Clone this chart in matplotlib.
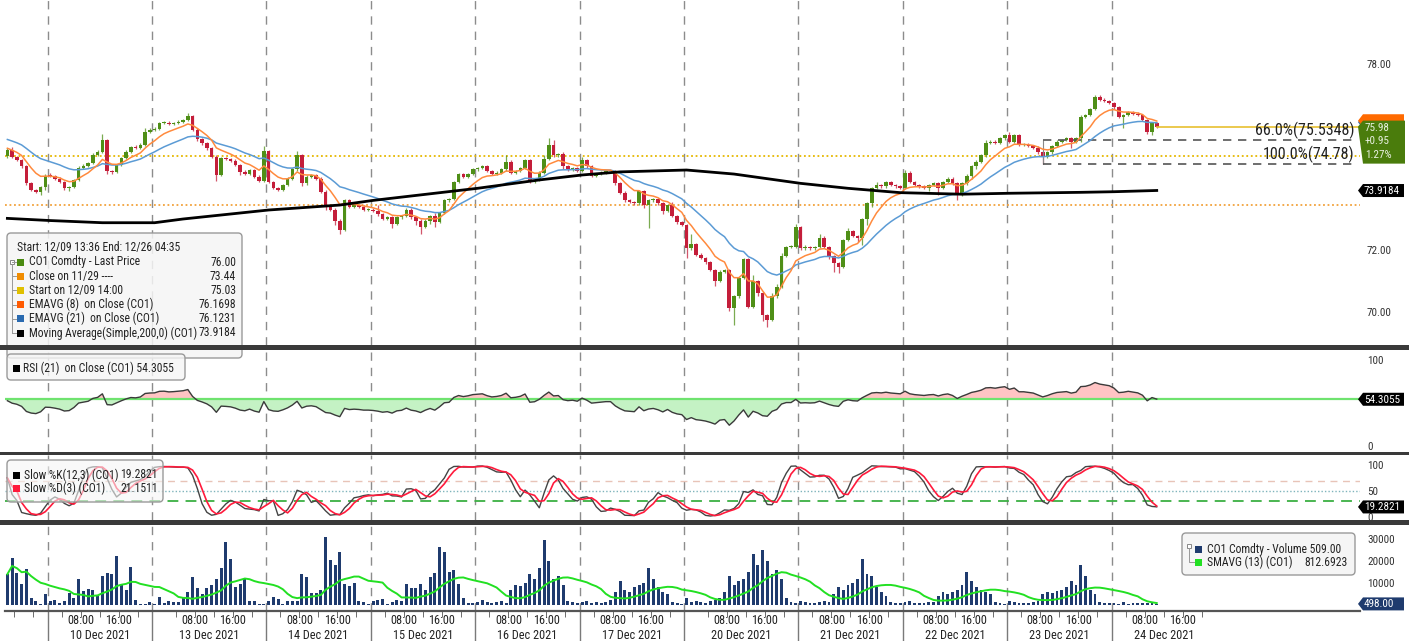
import numpy as np
import pandas as pd
import matplotlib
matplotlib.use('Agg')
import matplotlib.pyplot as plt
from matplotlib import font_manager
from matplotlib.patches import FancyBboxPatch, Polygon, Rectangle
from matplotlib.lines import Line2D
from matplotlib.transforms import blended_transform_factory


def have_font(name):
    try:
        font_manager.findfont(name, fallback_to_default=False)
        return True
    except ValueError:
        return False


# Bloomberg uses a narrow face; take the narrowest one that is installed
narrow = [f for f in ['Roboto Condensed', 'Liberation Sans Narrow', 'DejaVu Sans Condensed']
          if have_font(f)]
if narrow:
    plt.rcParams['font.family'] = [narrow[0], 'DejaVu Sans']
    fs = 1.0
else:
    plt.rcParams['font.family'] = ['Liberation Sans', 'DejaVu Sans']
    fs = 0.86

# --- hourly CO1 closes, one list per session (9 Dec 14:00 -> 24 Dec 10:00)
close_09 = [75.22, 75.0, 74.9, 74.7, 74.15, 73.95, 73.88, 74.02, 74.4]
close_10 = [74.38, 74.3, 74.2, 74.0, 74.03, 74.26, 74.64, 74.72, 74.8, 75.07, 75.17,
            75.55, 74.55, 74.52, 74.74, 74.96, 75.17, 75.33, 75.3, 75.4, 75.82, 75.88]
close_13 = [75.9, 76.09, 76.11, 76.06, 76.09, 76.14, 76.19, 76.32, 75.87, 75.57, 75.44, 75.28,
            75.01, 74.42, 74.96, 74.93, 74.88, 74.74, 74.53, 74.45, 74.58, 74.37, 74.24, 75.2]
close_14 = [74.2, 74.0, 73.95, 74.1, 74.3, 74.6, 75.05, 74.15, 74.37, 74.42, 74.3,
            73.88, 73.4, 73.3, 72.95, 72.65, 73.6, 73.4, 73.45, 73.4, 73.3, 73.3]
close_15 = [73.25, 73.15, 73.0, 73.05, 72.85, 73.05, 73.1, 73.3, 73.05, 72.95, 72.75,
            72.95, 73.1, 72.9, 73.2, 73.6, 73.65, 74.2, 74.45, 74.35, 74.45, 74.6]
close_16 = [74.65, 74.7, 74.55, 74.45, 74.5, 74.6, 74.85, 74.5, 74.55, 74.65, 74.9,
            74.2, 74.25, 74.5, 74.95, 75.4, 75.05, 75.1, 74.7, 74.6, 74.65, 74.55]
close_17 = [74.9, 74.7, 74.4, 74.45, 74.5, 74.55, 74.55, 74.15, 73.85, 73.6, 73.55,
            73.5, 73.9, 73.45, 73.6, 73.65, 73.5, 73.25, 73.45, 73.1, 72.9, 72.8]
close_20 = [72.05, 72.2, 71.85, 71.75, 71.6, 71.35, 71.0, 71.3, 71.35, 70.12, 70.5, 71.1,
            71.7, 70.17, 71.0, 70.6, 69.9, 69.75, 70.5, 70.8, 71.8, 72.1, 72.1, 72.75]
close_21 = [72.05, 72.1, 72.05, 72.1, 72.4, 72.1, 71.8, 71.57, 71.46, 72.32, 72.6,
            72.45, 72.4, 73.0, 73.5, 74.0, 74.1, 74.05, 74.2, 74.1, 74.05, 74.0]
close_22 = [74.5, 74.2, 74.1, 74.05, 74.0, 74.1, 74.15, 74.0, 74.2, 74.3, 74.15,
            73.85, 74.15, 74.4, 74.7, 74.85, 75.05, 75.45, 75.5, 75.45, 75.6, 75.7]
close_23 = [75.5, 75.7, 75.4, 75.4, 75.35, 75.3, 75.15, 75.0, 75.15, 75.35, 75.5,
            75.55, 75.6, 75.5, 75.6, 76.3, 76.35, 76.55, 76.95, 76.85, 76.8, 76.75]
close_24 = [76.6, 76.3, 76.35, 76.45, 76.4, 76.35, 76.2, 75.8, 76.1, 75.98]
first_open = 75.03

# wicks beyond the candle body, in cents
wick_up = [8, 10, 4, 4, 4, 3, 3, 4, 5,
           10, 4, 4, 3, 4, 4, 8, 4, 4, 5, 4, 18, 4, 4, 4, 4, 4, 4, 6, 4, 10, 5,
           6, 5, 4, 4, 4, 5, 5, 10, 4, 8, 4, 4, 4, 4, 5, 4, 4, 4, 4, 4, 4, 4, 4, 15,
           4, 4, 4, 4, 4, 4, 15, 5, 4, 4, 4, 4, 4, 4, 4, 4, 5, 4, 4, 4, 4, 4,
           4, 20, 4, 4, 4, 4, 4, 6, 4, 4, 4, 4, 4, 10, 4, 4, 4, 4, 5, 4, 4, 5,
           4, 4, 4, 4, 4, 4, 20, 4, 4, 4, 4, 4, 4, 4, 10, 20, 15, 4, 5, 4, 4, 4,
           10, 4, 4, 4, 4, 4, 4, 4, 4, 4, 4, 4, 4, 4, 4, 4, 4, 4, 4, 10, 4, 4,
           4, 30, 4, 4, 4, 4, 4, 5, 4, 4, 4, 4, 4, 5, 20, 4, 4, 4, 10, 10, 10, 4, 5, 10,
           4, 5, 4, 4, 10, 5, 4, 4, 4, 4, 10, 4, 4, 4, 4, 4, 10, 4, 4, 4, 4, 4,
           8, 5, 4, 4, 4, 4, 4, 4, 4, 4, 4, 4, 4, 4, 4, 4, 5, 10, 4, 4, 5, 4,
           10, 4, 4, 4, 4, 4, 4, 4, 5, 4, 4, 4, 4, 4, 4, 4, 5, 4, 5, 5, 4, 4,
           4, 4, 4, 4, 4, 5, 4, 4, 4, 4]
wick_dn = [5, 4, 4, 4, 5, 4, 4, 12, 10,
           4, 4, 4, 5, 10, 4, 4, 4, 4, 4, 4, 4, 10, 8, 4, 4, 4, 4, 4, 4, 4, 4,
           4, 4, 4, 4, 4, 4, 4, 4, 4, 4, 4, 4, 4, 20, 4, 4, 4, 4, 10, 4, 4, 4, 4, 4,
           4, 4, 4, 4, 4, 4, 4, 10, 4, 4, 4, 4, 10, 4, 15, 15, 4, 4, 4, 4, 4, 4,
           4, 4, 4, 4, 15, 4, 4, 4, 4, 15, 25, 4, 10, 15, 4, 4, 4, 4, 4, 4, 4, 4,
           4, 4, 4, 4, 4, 4, 4, 4, 4, 4, 4, 4, 4, 4, 4, 4, 4, 4, 10, 4, 4, 4,
           4, 4, 4, 4, 4, 4, 4, 4, 4, 4, 4, 4, 5, 10, 75, 4, 4, 10, 4, 4, 5, 4,
           32, 4, 5, 4, 4, 4, 15, 4, 4, 10, 54, 4, 4, 5, 4, 10, 20, 25, 4, 4, 4, 4, 4, 4,
           4, 4, 4, 4, 4, 4, 10, 27, 20, 4, 4, 4, 15, 25, 20, 10, 4, 4, 4, 4, 4, 4,
           4, 4, 4, 4, 4, 10, 4, 23, 4, 4, 4, 24, 10, 4, 10, 10, 4, 4, 4, 4, 4, 4,
           4, 4, 4, 4, 4, 4, 4, 22, 4, 4, 4, 4, 4, 22, 4, 10, 4, 4, 4, 4, 4, 4,
           4, 5, 38, 4, 4, 4, 4, 5, 10, 4]

vol_09 = [14000, 21500, 14700, 9400, 16200, 3000, 1800, 300, 5000]
vol_10 = [1800, 2100, 900, 1700, 5300, 3000, 11800, 6500, 7400, 6700, 4200,
          13200, 14700, 14000, 22300, 9100, 6700, 17400, 2100, 600, 600, 1400]
vol_13 = [600, 3500, 1000, 2000, 1400, 1400, 3500, 5800, 12700, 7900, 5000, 7900,
          9100, 11800, 16700, 28800, 20800, 8300, 9500, 12100, 1700, 1700, 500, 600]
vol_14 = [2000, 3800, 2600, 600, 1800, 1800, 1800, 14000, 12700, 5300, 5600,
          7000, 30800, 20500, 18300, 24200, 9400, 8600, 9800, 1800, 1500, 500]
vol_15 = [2000, 2300, 2600, 600, 1500, 2400, 1700, 9400, 7900, 7900, 9400,
          6800, 12900, 14400, 26200, 24200, 15200, 16000, 9500, 3000, 1000, 800]
vol_16 = [1500, 2500, 1200, 800, 1500, 2000, 1000, 7000, 9000, 8500, 10000,
          14000, 12000, 17000, 29500, 20000, 12000, 13000, 9000, 2000, 1200, 800]
vol_17 = [1500, 2000, 1000, 1500, 800, 1200, 2500, 6000, 11000, 7000, 6000,
          8000, 9000, 10000, 17000, 12000, 8000, 6000, 5000, 1500, 1000, 600]
vol_20 = [3000, 1500, 2000, 1500, 1000, 2000, 2500, 3000, 6000, 13000, 9000, 11000,
          12000, 15000, 23000, 18000, 25000, 20000, 14000, 16000, 12000, 3000, 1500, 1000]
vol_21 = [2000, 1500, 1000, 800, 1500, 2000, 1500, 5000, 8000, 7000, 9000,
          10000, 12000, 21000, 14000, 13000, 8000, 6000, 4000, 1500, 1000, 700]
vol_22 = [1500, 2000, 1000, 800, 700, 1200, 1500, 4000, 6000, 5000, 6000,
          7000, 9000, 15000, 11000, 8000, 7000, 6000, 5000, 1500, 1000, 600]
vol_23 = [2000, 1500, 1000, 800, 1000, 1500, 2000, 5000, 6000, 5500, 6500,
          7000, 8000, 11000, 9000, 18000, 13000, 7000, 5000, 1500, 1000, 800]
vol_24 = [800, 600, 1200, 500, 900, 1000, 700, 1100, 900, 509]

# 200-bar simple MA (bar index, value)
sma200_bar = [0, 9, 20, 31, 37, 55, 70, 77, 99, 112, 121, 129, 143, 153, 167, 177, 188,
              201, 211, 226, 233, 242]
sma200_val = [73.02, 72.95, 72.88, 72.88, 73.0, 73.29, 73.45, 73.6, 73.99, 74.26, 74.42,
              74.52, 74.58, 74.45, 74.15, 73.99, 73.85, 73.8, 73.83, 73.86, 73.88, 73.92]

day_labels = ['10 Dec 2021', '13 Dec 2021', '14 Dec 2021', '15 Dec 2021', '16 Dec 2021',
              '17 Dec 2021', '20 Dec 2021', '21 Dec 2021', '22 Dec 2021', '23 Dec 2021',
              '24 Dec 2021']
day_starts = [9, 31, 55, 77, 99, 121, 143, 167, 189, 211, 233]
day_first_hour = [1, -1, 1, 1, 1, 1, -1, 1, 1, 1, 1]
day_nbars = [22, 24, 22, 22, 22, 22, 24, 22, 22, 22, 22]

close_1129 = 73.44
start_price = 75.03
fib_bar = 218
fib_levels = [75.5348, 74.78]
fib_text = ['66.0%(75.5348)', '100.0%(74.78)']

# --- derived series
closes = np.array(close_09 + close_10 + close_13 + close_14 + close_15 + close_16 +
                  close_17 + close_20 + close_21 + close_22 + close_23 + close_24)
opens = np.r_[first_open, closes[:-1]]
highs = np.maximum(opens, closes) + np.array(wick_up) / 100
lows = np.minimum(opens, closes) - np.array(wick_dn) / 100
volumes = np.array(vol_09 + vol_10 + vol_13 + vol_14 + vol_15 + vol_16 + vol_17 +
                   vol_20 + vol_21 + vol_22 + vol_23 + vol_24, dtype=float)
n = len(closes)
xs = np.arange(n)


def ema(vals, span, seed):
    a = 2 / (span + 1)
    out, v = [], seed
    for c in vals:
        v = v + a * (c - v)
        out.append(v)
    return np.array(out)


ema8 = ema(closes, 8, 75.3)
ema21 = ema(closes, 21, 75.6)

# RSI (Wilder, 21)
ag, al = 0.10, 0.09
rsi = []
for i in range(n):
    if i > 0:
        d = closes[i] - closes[i - 1]
        ag = (ag * 20 + max(d, 0)) / 21
        al = (al * 20 + max(-d, 0)) / 21
    rsi.append(100 - 100 / (1 + ag / al))
rsi = np.array(rsi)
rsi_ref = 54.3055

# slow stochastic (12,3,3)
fastk = []
for i in range(n):
    lo = lows[max(0, i - 11):i + 1].min()
    hi = highs[max(0, i - 11):i + 1].max()
    fastk.append(100 * (closes[i] - lo) / (hi - lo))
slowk = pd.Series(fastk).rolling(3, min_periods=1).mean().values
slowd = pd.Series(slowk).rolling(3, min_periods=1).mean().values

vol_sma = pd.Series(volumes).rolling(13, min_periods=1).mean().values

# --- figure
W, H = 1409, 641
fig = plt.figure(figsize=(W / 100, H / 100), dpi=100)


def panel(top, bottom):
    return fig.add_axes([5 / W, 1 - bottom / H, 1355 / W, (bottom - top) / H])


ax = panel(0, 345)
ax_rsi = panel(350, 452)
ax_sto = panel(455, 520)
ax_vol = panel(525, 611)
x_right = 284.8

for a in (ax, ax_rsi, ax_sto, ax_vol):
    a.set_xlim(-0.5, x_right)
    for s in a.spines.values():
        s.set_visible(False)
    a.yaxis.tick_right()
    a.tick_params(axis='y', length=0, pad=5, labelsize=8 * fs, labelcolor='#333333')
    a.set_xticks([])
    for s in day_starts:
        a.axvline(s - 0.5, color='#8c8c8c', lw=1, ls=(0, (6, 5)), zorder=1)

# main price panel
ax.set_ylim(68.935, 80.065)
ax.axhline(start_price, color='#e6b800', lw=1.3, ls=(0, (1, 1.5)), zorder=1)
ax.axhline(close_1129, color='#f2a23c', lw=1.3, ls=(0, (1, 1.5)), zorder=1)
up = closes >= opens
cols = np.where(up, '#4f8f17', '#c41e3a')
ax.vlines(xs, lows, highs, colors=cols, lw=0.9, alpha=0.75, zorder=2)
ax.bar(xs, np.maximum(np.abs(closes - opens), 0.035), bottom=np.minimum(opens, closes),
       width=0.76, color=cols, linewidth=0, zorder=2)
ax.plot(xs, ema21, color='#5b9bd5', lw=1.1, zorder=3)
ax.plot(xs, ema8, color='#ff8a3d', lw=1.1, zorder=3)
ax.plot(sma200_bar, sma200_val, color='black', lw=2, zorder=3)
ax.plot([n - 1, x_right], [closes[-1], closes[-1]], color='#e8c030', lw=1.2, zorder=2)
ax.vlines(fib_bar, fib_levels[1], fib_levels[0], color='#888888', lw=0.8, zorder=2)
for lvl, txt in zip(fib_levels, fib_text):
    ax.plot([fib_bar, x_right - 0.6], [lvl, lvl], color='#555555', lw=1.2,
            ls=(0, (5, 4)), zorder=2)
    ax.text(x_right - 1.1, lvl + 0.03, txt, ha='right', va='bottom', fontsize=11.5 * fs,
            color='#222222', zorder=4)
ax.set_yticks([70, 72, 78])
ax.set_yticklabels(['70.00', '72.00', '78.00'])

# RSI panel
ax_rsi.set_ylim(-7, 111.6)
ax_rsi.fill_between(xs, rsi, rsi_ref, where=rsi >= rsi_ref, interpolate=True,
                    color='#ffc4c4', lw=0, zorder=2)
ax_rsi.fill_between(xs, rsi, rsi_ref, where=rsi < rsi_ref, interpolate=True,
                    color='#c4f2c4', lw=0, zorder=2)
ax_rsi.axhline(rsi_ref, color='#6fe36f', lw=1.6, zorder=3)
ax_rsi.plot(xs, rsi, color='#3a3a3a', lw=1, zorder=4)
ax_rsi.set_yticks([0, 100])
ax_rsi.set_yticklabels(['0', '100'])

# stochastic panel
ax_sto.set_ylim(-5.8, 119)
ax_sto.axhline(70, color='#e8c4b8', lw=1, ls=(0, (5, 4)), zorder=1)
ax_sto.axhline(50, color='#7fb4bc', lw=1, ls=(0, (1, 1.5)), zorder=1)
ax_sto.axhline(30, color='#3cb043', lw=1.3, ls=(0, (6, 4)), zorder=1)
ax_sto.plot(xs, slowk, color='#444444', lw=1, zorder=3)
ax_sto.plot(xs, slowd, color='#ff1a3c', lw=1.2, zorder=3)
ax_sto.set_yticks([0, 50, 100])
ax_sto.set_yticklabels(['0', '50', '100'])

# volume panel
ax_vol.set_ylim(-2727, 36364)
ax_vol.bar(xs, volumes, width=0.62, color='#1f3b6e', linewidth=0, zorder=2)
ax_vol.plot(xs, vol_sma, color='#22e022', lw=1.4, zorder=3)
ax_vol.set_yticks([10000, 20000, 30000])
ax_vol.set_yticklabels(['10000', '20000', '30000'])
ax_vol.spines['bottom'].set_visible(True)
ax_vol.spines['bottom'].set_color('#555555')
ax_vol.spines['bottom'].set_linewidth(1.6)

# time axis
minor = [1.5, 5.5]
for s, fh in zip(day_starts, day_first_hour):
    minor += [s + h - fh - 0.5 for h in (4, 8, 12, 16, 20)]
ax_vol.set_xticks(minor, minor=True)
ax_vol.tick_params(axis='x', which='minor', length=4, color='#555555', direction='out')
tb = blended_transform_factory(ax_vol.transData, ax_vol.transAxes)
for lab, s, fh, nb in zip(day_labels, day_starts, day_first_hour, day_nbars):
    for h in (8, 16):
        ax_vol.text(s + h - fh - 0.5, -0.11, '%02d:00' % h, transform=tb, ha='center',
                    va='center', fontsize=8.8 * fs, color='#222222')
    ax_vol.text(s - 0.5 + nb / 2, -0.29, lab, transform=tb, ha='center', va='center',
                fontsize=8.8 * fs, color='#222222')
    ax_vol.add_line(Line2D([s - 0.5, s - 0.5], [0, -0.4], transform=tb, color='#7a7a7a',
                           lw=1, clip_on=False))

# --- overlay in pixel coordinates for frames, legends and value tags
ov = fig.add_axes([0, 0, 1, 1], zorder=10)
ov.set_xlim(0, W)
ov.set_ylim(H, 0)
ov.axis('off')
LS = 8.4 * fs  # legend text size


def ypx(a, v):
    return H - a.transData.transform((0, v))[1]


def tag(y, txt, color, z, h=13):
    x0, x1 = 1358, 1404
    ov.add_patch(Polygon([(x0, y), (x0 + 5, y - h / 2), (x1, y - h / 2), (x1, y + h / 2),
                          (x0 + 5, y + h / 2)], closed=True, fc=color, ec='none', zorder=z))
    if txt:
        ov.text(x0 + 6, y + 0.5, txt, color='white', fontsize=8 * fs, va='center',
                ha='left', zorder=z + 0.1)


def legend_box(x, y, w, h, alpha=0.85):
    ov.add_patch(FancyBboxPatch((x, y), w, h, boxstyle='round,pad=0,rounding_size=4',
                                fc=(0.96, 0.96, 0.96, alpha), ec='#9a9a9a', lw=1))


def swatch(x, y, color):
    ov.add_patch(Rectangle((x, y - 3.5), 7, 7, fc=color, ec='none'))


# main legend
legend_box(7, 233, 235, 125)
ov.text(17, 248, 'Start: 12/09 13:36 End: 12/26 04:35', fontsize=LS, va='center',
        color='#222222')
main_rows = [('CO1 Comdty - Last Price', '76.00', '#4a8a10'),
             ('Close on 11/29 ----', '73.44', '#f08c00'),
             ('Start on 12/09 14:00', '75.03', '#e0c000'),
             ('EMAVG (8)  on Close (CO1)', '76.1698', '#ff5a00'),
             ('EMAVG (21)  on Close (CO1)', '76.1231', '#2a6ab0'),
             ('Moving Average(Simple,200,0) (CO1)', '73.9184', '#000000')]
ov.add_patch(Rectangle((10, 259.5), 4, 4, fc='white', ec='#888888', lw=0.7))
ov.plot([12, 12], [264, 333], color='#999999', lw=0.7)
for k, (name, val, c) in enumerate(main_rows):
    yy = 262 + 14.2 * k
    ov.plot([12, 16], [yy, yy], color='#999999', lw=0.7)
    swatch(17, yy, c)
    ov.text(29, yy, name, fontsize=LS, va='center', color='#222222')
    ov.text(236, yy, val, fontsize=LS, va='center', ha='right', color='#222222')

# RSI legend
legend_box(7, 354, 178, 26, alpha=0.8)
swatch(13, 368, '#000000')
ov.text(23, 368, 'RSI (21)  on Close (CO1) 54.3055', fontsize=LS, va='center',
        color='#222222')

# stochastic legend
legend_box(7, 460, 156, 42, alpha=0.6)
for yy, name, val, c in [(475, 'Slow %K(12,3) (CO1)', '19.2821', '#000000'),
                         (488, 'Slow %D(3) (CO1)', '21.1511', '#ff1a3c')]:
    swatch(13, yy, c)
    ov.text(24, yy, name, fontsize=LS, va='center', color='#222222')
    ov.text(158, yy, val, fontsize=LS, va='center', ha='right', color='#222222')

# volume legend
legend_box(1182, 533, 173, 42, alpha=0.95)
ov.add_patch(Rectangle((1187, 544), 4, 4, fc='white', ec='#888888', lw=0.7))
ov.plot([1189, 1189, 1194], [548, 562, 562], color='#999999', lw=0.7)
swatch(1195, 549, '#1f3b6e')
swatch(1195, 562, '#22e022')
ov.text(1207, 549, 'CO1 Comdty - Volume 509.00', fontsize=LS, va='center', color='#222222')
ov.text(1207, 562, 'SMAVG (13) (CO1)', fontsize=LS, va='center', color='#222222')
ov.text(1348, 562, '812.6923', fontsize=LS, va='center', ha='right', color='#222222')

# right-hand value tags (the last-price box hides the two EMA tags)
tag(ypx(ax, 76.1231), '', '#2a6ab0', 3)
tag(ypx(ax, 76.1698), '', '#ff6a00', 3.3)
yl = ypx(ax, closes[-1])
ov.add_patch(Polygon([(1358, yl), (1363, yl - 6), (1405, yl - 6), (1405, yl + 37),
                      (1363, yl + 37)], closed=True, fc='#4a7c0c', ec='none', zorder=3.6))
for k, txt in enumerate(['75.98', '+0.95', '1.27%']):
    ov.text(1365, yl + 1 + 13.5 * k, txt, color='#e8f0e0', fontsize=8 * fs, va='center',
            zorder=3.7)
tag(ypx(ax, 73.9184), '73.9184', '#000000', 4)
tag(ypx(ax_rsi, rsi_ref), '54.3055', '#000000', 4)
tag(ypx(ax_sto, 19.2821), '19.2821', '#000000', 4)
tag(ypx(ax_vol, 498), '498.00', '#1f3b6e', 4)

# panel separators
for y0, hh in [(345, 4.5), (451.5, 3.5), (520, 4.5)]:
    ov.add_patch(Rectangle((0, y0), W, hh, fc='#3a3a3a', ec='none', zorder=5))

fig.savefig('out.png', dpi=100)
